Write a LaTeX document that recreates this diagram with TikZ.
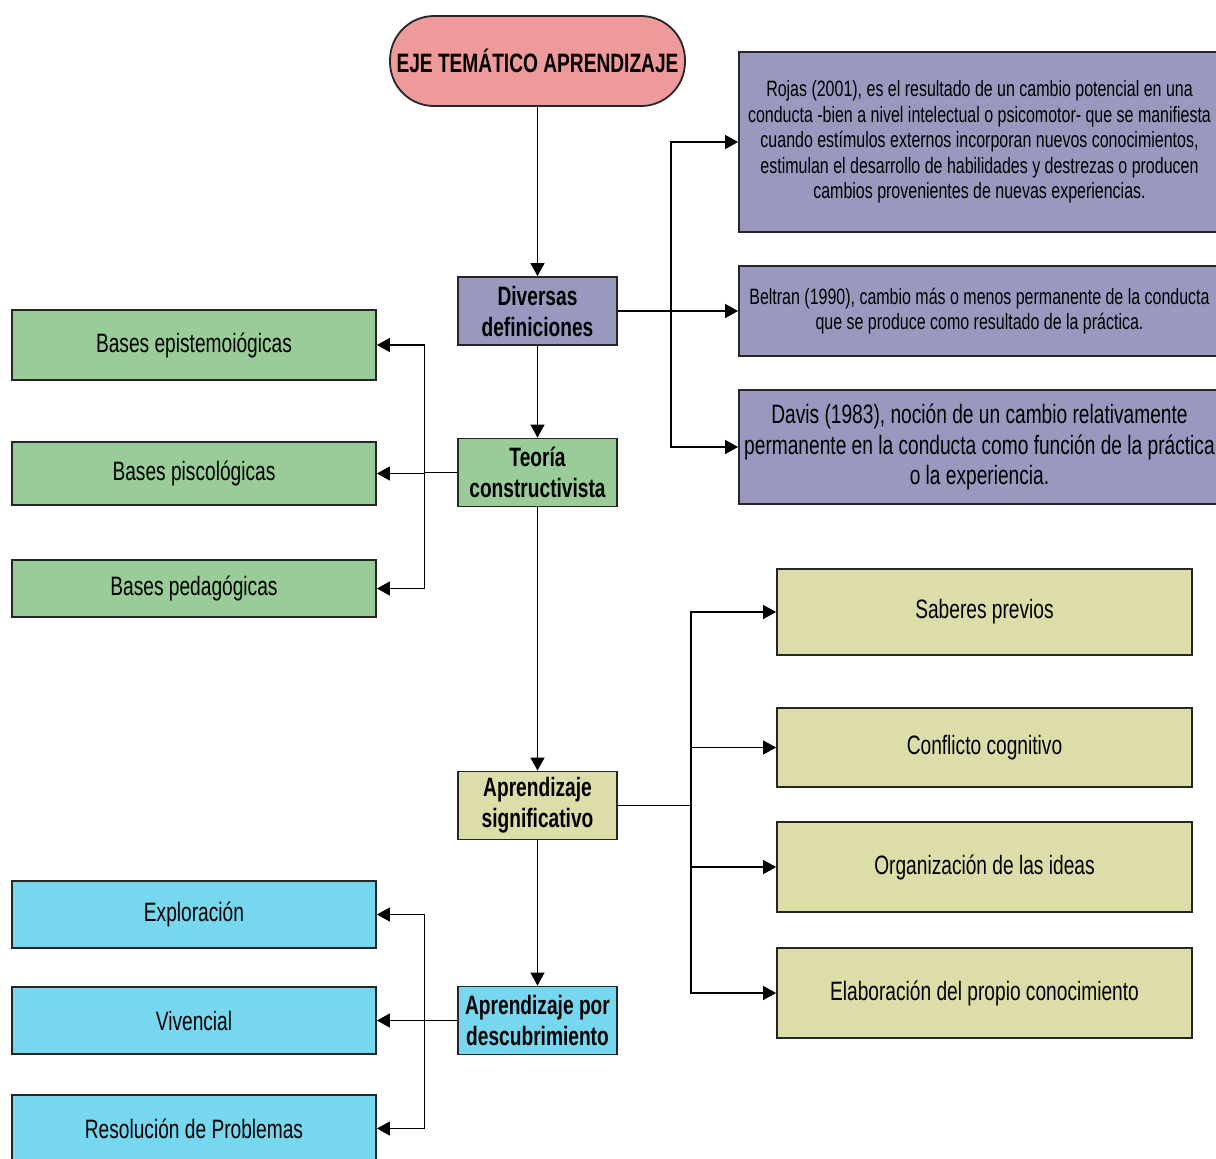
\documentclass[tikz,border=0pt]{standalone}
\usepackage{fontspec}
\setmainfont[FakeStretch=0.72]{Liberation Sans}
\usetikzlibrary{arrows.meta}
\definecolor{titlepink}{RGB}{238,154,154}
\definecolor{defpurple}{RGB}{153,153,191}
\definecolor{teogreen}{RGB}{153,204,153}
\definecolor{sigyellow}{RGB}{221,221,170}
\definecolor{descyan}{RGB}{119,215,239}

\begin{document}
\begin{tikzpicture}[> = {Triangle[length=6.5pt,width=7pt]}, % arrow head style
	x=0.5pt, y=-0.5pt, % one unit is one pixel of the layout, y downwards
	link/.style={->, line width=0.6pt, black},
	box/.style={draw=black!85, line width=0.9pt, inner sep=0pt, align=center},
	title/.style={box, fill=titlepink, rounded corners=22pt, minimum width=147.5pt,
		minimum height=45pt, font=\fontsize{13.3}{15.5}\selectfont\bfseries},
	hub/.style={box, minimum width=79.5pt, minimum height=34pt,
		font=\fontsize{13.3}{15.5}\selectfont\bfseries},
	defbox/.style={box, fill=defpurple, minimum width=240.5pt},
	leaf/.style={box, minimum width=182pt, font=\fontsize{13.3}{15.5}\selectfont},
	saber/.style={box, fill=sigyellow, minimum width=207.5pt,
		font=\fontsize{13.3}{15.5}\selectfont}]
	\useasboundingbox (0,0) rectangle (1216,1158);
	\clip (0,0) rectangle (1216,1158);

	% main column
	\node[title] (eje) at (537.5,61) {EJE TEMÁTICO APRENDIZAJE};
	\node[hub, fill=defpurple] (diversas) at (537.5,311) {Diversas\\definiciones};
	\node[hub, fill=teogreen] (teoria) at (537.5,472.5) {Teoría\\constructivista};
	\node[hub, fill=sigyellow] (signif) at (537.5,805.5) {Aprendizaje\\significativo};
	\node[hub, fill=descyan] (descub) at (537.5,1020.5) {Aprendizaje por\\descubrimiento};

	% definitions
	\node[defbox, minimum height=90pt, font=\fontsize{11.1}{12.7}\selectfont] (rojas) at (979.5,142)
		{Rojas (2001), es el resultado de un cambio potencial en una\\
		conducta -bien a nivel intelectual o psicomotor- que se manifiesta\\
		cuando estímulos externos incorporan nuevos conocimientos,\\
		estimulan el desarrollo de habilidades y destrezas o producen\\
		cambios provenientes de nuevas experiencias.};
	\node[defbox, minimum height=45pt, font=\fontsize{11.1}{12.7}\selectfont] (beltran) at (979.5,311)
		{Beltran (1990), cambio más o menos permanente de la conducta\\
		que se produce como resultado de la práctica.};
	\node[defbox, minimum height=57pt, font=\fontsize{13.3}{15.2}\selectfont] (davis) at (979.5,447)
		{Davis (1983), noción de un cambio relativamente\\
		permanente en la conducta como función de la práctica\\
		o la experiencia.};

	% bases
	\node[leaf, fill=teogreen, minimum height=35pt] (epistemo) at (194,345) {Bases epistemoiógicas};
	\node[leaf, fill=teogreen, minimum height=31.5pt] (psico) at (194,473.5) {Bases piscológicas};
	\node[leaf, fill=teogreen, minimum height=28.5pt] (pedago) at (194,588.5) {Bases pedagógicas};

	% significativo
	\node[saber, minimum height=43pt] (saberes) at (984.5,612) {Saberes previos};
	\node[saber, minimum height=39.5pt] (conflicto) at (984.5,747.5) {Conflicto cognitivo};
	\node[saber, minimum height=45pt] (organiza) at (984.5,867) {Organización de las ideas};
	\node[saber, minimum height=45pt] (elabora) at (984.5,993) {Elaboración del propio conocimiento};

	% descubrimiento
	\node[leaf, fill=descyan, minimum height=33.5pt] (explora) at (194,914.5) {Exploración};
	\node[leaf, fill=descyan, minimum height=33.5pt] (vivencial) at (194,1020.5) {Vivencial};
	\node[leaf, fill=descyan, minimum height=33.5pt] (resolucion) at (194,1128.5) {Resolución de Problemas};

	\draw[link] (eje) -- (diversas);
	\draw[link] (diversas) -- (teoria);
	\draw[link] (teoria) -- (signif);
	\draw[link] (signif) -- (descub);

	\foreach \n in {rojas,beltran,davis}
		\draw[link] (diversas.east) -- ++(53,0) |- (\n);
	\foreach \n in {epistemo,psico,pedago}
		\draw[link] (teoria.west) -- ++(-33,0) |- (\n);
	\foreach \n in {saberes,conflicto,organiza,elabora}
		\draw[link] (signif.east) -- ++(73,0) |- (\n);
	\foreach \n in {explora,vivencial,resolucion}
		\draw[link] (descub.west) -- ++(-33,0) |- (\n);

\end{tikzpicture}
\end{document}
